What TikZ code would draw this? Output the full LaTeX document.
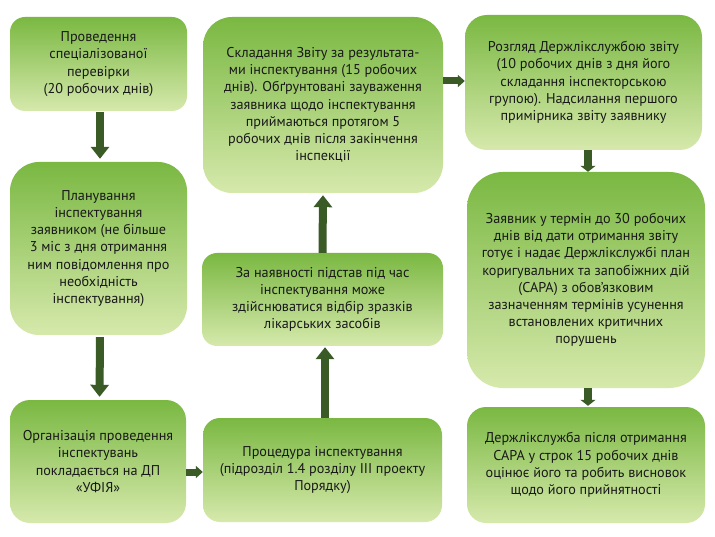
\documentclass[tikz,border=0pt]{standalone}
\usepackage{fontspec}
\setmainfont{PT Sans}
\usetikzlibrary{arrows.meta}
\definecolor{gtop}{RGB}{122,184,66}
\definecolor{gbot}{RGB}{214,233,172}
\definecolor{arr}{RGB}{58,90,38}
\definecolor{txt}{RGB}{25,25,25}
\tikzset{
  box/.style={top color=gtop, bottom color=gbot, draw=none, align=center,
    inner sep=0pt, text=txt, font=\fontsize{14.2}{17.2}\selectfont, anchor=center},
  blockarrow/.style={draw=arr, line width=8pt,
    -{Triangle[width=18pt,length=12pt,fill=arr]}},
  harrow/.style={draw=arr, line width=7pt,
    -{Triangle[width=12pt,length=7pt,fill=arr]}},
  sarrow/.style={draw=arr, line width=8pt,
    -{Triangle[width=15pt,length=6pt,fill=arr]}}
}
\begin{document}
\begin{tikzpicture}[x=1pt,y=-1pt]
\useasboundingbox (0,0) rectangle (715,537);
\fill[white] (0,0) rectangle (715,537);

\node[box, minimum width=177pt, minimum height=94pt, rounded corners=15pt] (b1) at (98.5,64)
 {Проведення\\спеціалізованої\\перевірки\\(20 робочих днів)};
\node[box, minimum width=177pt, minimum height=173pt, rounded corners=29pt] (b2) at (98.5,248.5)
 {Планування\\інспектування\\заявником (не більше\\3 міс з дня отримання\\ним повідомлення про\\необхідність\\інспектування)};
\node[box, minimum width=176pt, minimum height=123pt, rounded corners=20pt] (b3) at (98,461.5)
 {Організація проведення\\інспектувань\\покладається на ДП\\«УФІЯ»};
\node[box, minimum width=239pt, minimum height=104pt, rounded corners=17pt] (b4) at (322.5,470)
 {Процедура інспектування\\(підрозділ 1.4 розділу III проекту\\Порядку)};
\node[box, minimum width=241pt, minimum height=93pt, rounded corners=15pt] (b5) at (322.5,299.5)
 {За наявності підстав під час\\інспектування може\\здійснюватися відбір зразків\\лікарських засобів};
\node[box, minimum width=240pt, minimum height=176pt, rounded corners=29pt] (b6) at (323,105)
 {Складання Звіту за результата-\\ми інспектування (15 робочих\\днів). Обґрунтовані зауваження\\заявника щодо інспектування\\приймаються протягом 5\\робочих днів після закінчення\\інспекції};
\node[box, minimum width=237pt, minimum height=135pt, rounded corners=22pt] (b7) at (583.5,82.5)
 {Розгляд Держлікслужбою звіту\\(10 робочих днів з дня його\\складання інспекторською\\групою). Надсилання першого\\примірника звіту заявнику};
\node[box, minimum width=238pt, minimum height=216pt, rounded corners=36pt] (b8) at (586,280)
 {Заявник у термін до 30 робочих\\днів від дати отримання звіту\\готує і надає Держлікслужбі план\\коригувальних та запобіжних дій\\(CAPA) з обов’язковим\\зазначенням термінів усунення\\встановлених критичних\\порушень};
\node[box, minimum width=238pt, minimum height=116pt, rounded corners=19pt] (b9) at (586,465)
 {Держлікслужба після отримання\\CAPA у строк 15 робочих днів\\оцінює його та робить висновок\\щодо його прийнятності};

\draw[blockarrow, shorten <=1pt, shorten >=3pt] ([xshift=1.5pt]b1.south) -- ([xshift=1.5pt]b2.north);
\draw[blockarrow, shorten <=2pt, shorten >=3pt] ([xshift=1.5pt]b2.south) -- ([xshift=1.5pt]b3.north);
\draw[harrow] (b3.east |- 0,472) -- (b4.west |- 0,472);
\draw[blockarrow, shorten >=1pt] ([xshift=2.5pt]b4.north) -- ([xshift=2.5pt]b5.south);
\draw[blockarrow, shorten >=2pt] (b5.north) -- (b6.south);
\draw[harrow] (b6.east |- 0,81) -- (b7.west |- 0,81);
\draw[sarrow] ([xshift=4.5pt]b7.south) -- ([xshift=2pt]b8.north);
\draw[sarrow, shorten >=1pt] ([xshift=2pt]b8.south) -- ([xshift=2pt]b9.north);
\end{tikzpicture}
\end{document}
